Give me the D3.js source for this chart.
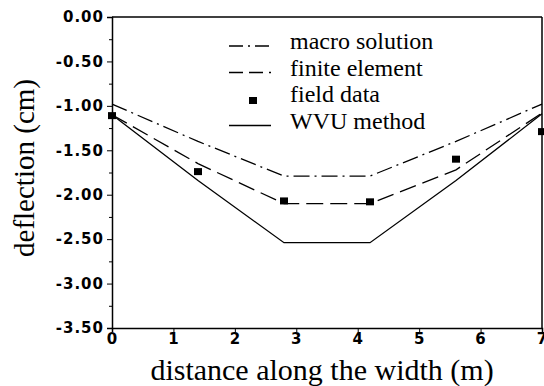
<!DOCTYPE html>
<html>
<head>
<meta charset="utf-8">
<script src="https://cdn.jsdelivr.net/npm/d3@7"></script>
<style>
body { margin: 0; background: #fff; }
.tick text { font-family: "DejaVu Sans", sans-serif; font-weight: bold; font-size: 15px; letter-spacing: 1px; fill: #000; }
.title, .legend text { font-family: "Liberation Serif", "Times New Roman", serif; fill: #000; }
</style>
</head>
<body>
<svg width="544" height="386"></svg>
<script>
// distances across the width (m)
var xs = [0, 1.4, 2.8, 4.2, 5.6, 7];
// deflections (cm)
var macro = [-0.98, -1.40, -1.79, -1.79, -1.40, -0.98];
var finite = [-1.10, -1.65, -2.10, -2.10, -1.72, -1.08];
var wvu = [-1.10, -1.84, -2.54, -2.54, -1.84, -1.09];
var field = [-1.11, -1.74, -2.07, -2.08, -1.60, -1.29];
var yTicks = [0, -0.5, -1, -1.5, -2, -2.5, -3, -3.5];
var xTicks = [0, 1, 2, 3, 4, 5, 6, 7];
var legendNames = ['macro solution', 'finite element', 'field data', 'WVU method'];

function main() {
	var svg = d3.select('svg'),
	margin = {top: 17, right: 2, bottom: 58, left: 112},
	width = +svg.attr('width') - margin.left - margin.right,
	height = +svg.attr('height') - margin.top - margin.bottom;

	var g = svg.append('g')
			.attr('transform', 'translate(' + margin.left + ',' + margin.top + ')');

	var x = d3.scaleLinear().domain([0, 7]).range([0, width]);
	var y = d3.scaleLinear().domain([-3.5, 0]).range([height, 0]);

	// minor ticks on y
	var minor = d3.range(-3.25, 0, 0.5);
	g.append('g')
		.call(d3.axisLeft(y).tickValues(minor).tickSize(3).tickFormat(''))
		.call(function(a){ a.select('.domain').remove(); });

	g.append('g')
		.call(d3.axisLeft(y).tickValues(yTicks).tickSize(5).tickPadding(3)
			.tickFormat(function(d){ return d3.format('.2f')(d).replace('\u2212', '-'); }))
		.call(function(a){ a.select('.domain').attr('stroke-width', 1.5); });

	g.append('g')
		.attr('transform', 'translate(0,' + height + ')')
		.call(d3.axisBottom(x).tickValues(xTicks).tickSize(4).tickPadding(1).tickFormat(d3.format('d')))
		.call(function(a){ a.select('.domain').attr('stroke-width', 1.5); });

	// frame top and right
	g.append('line').attr('x1', 0).attr('x2', width).attr('y1', 0).attr('y2', 0)
		.attr('stroke', '#000').attr('stroke-width', 1.5);
	g.append('line').attr('x1', width).attr('x2', width).attr('y1', 0).attr('y2', height)
		.attr('stroke', '#000').attr('stroke-width', 1.5);

	var series = [
		{vals: macro, dash: '16,5,2,5'},
		{vals: finite, dash: '17,7'},
		{vals: wvu, dash: null}
	];
	var line = d3.line()
		.x(function(d, i){ return x(xs[i]); })
		.y(function(d){ return y(d); });

	series.forEach(function(s){
		g.append('path')
			.attr('d', line(s.vals))
			.attr('fill', 'none')
			.attr('stroke', '#000')
			.attr('stroke-width', 1.3)
			.attr('stroke-dasharray', s.dash);
	});

	g.selectAll('.pt')
		.data(field)
		.enter().append('rect')
		.attr('class', 'pt')
		.attr('x', function(d, i){ return x(xs[i]) - 4; })
		.attr('y', function(d){ return y(d) - 3.5; })
		.attr('width', 8)
		.attr('height', 7)
		.attr('fill', '#000');

	// legend
	var leg = svg.append('g').attr('class', 'legend');
	var styles = ['14,5,2,5', '14,6', 'pt', null];
	legendNames.forEach(function(name, i){
		var ly = 41 + i * 26.5;
		if (styles[i] === 'pt') {
			leg.append('rect').attr('x', 249).attr('y', ly + 3).attr('width', 8).attr('height', 7).attr('fill', '#000');
		} else {
			leg.append('line').attr('x1', 229).attr('x2', 271).attr('y1', ly + 5).attr('y2', ly + 5)
				.attr('stroke', '#000').attr('stroke-width', 1.3).attr('stroke-dasharray', styles[i]);
		}
		leg.append('text')
			.attr('x', 290).attr('y', ly)
			.attr('dy', '0.35em')
			.style('font-size', '24px')
			.text(name);
	});

	// axis titles
	svg.append('text')
		.attr('class', 'title')
		.attr('x', margin.left + width / 2 - 5)
		.attr('y', 380)
		.attr('text-anchor', 'middle')
		.style('font-size', '30px')
		.text('distance along the width (m)');

	svg.append('text')
		.attr('class', 'title')
		.attr('transform', 'translate(34,' + 168 + ') rotate(-90)')
		.attr('text-anchor', 'middle')
		.style('font-size', '29px')
		.text('deflection (cm)');
}
main();
</script>
</body>
</html>
